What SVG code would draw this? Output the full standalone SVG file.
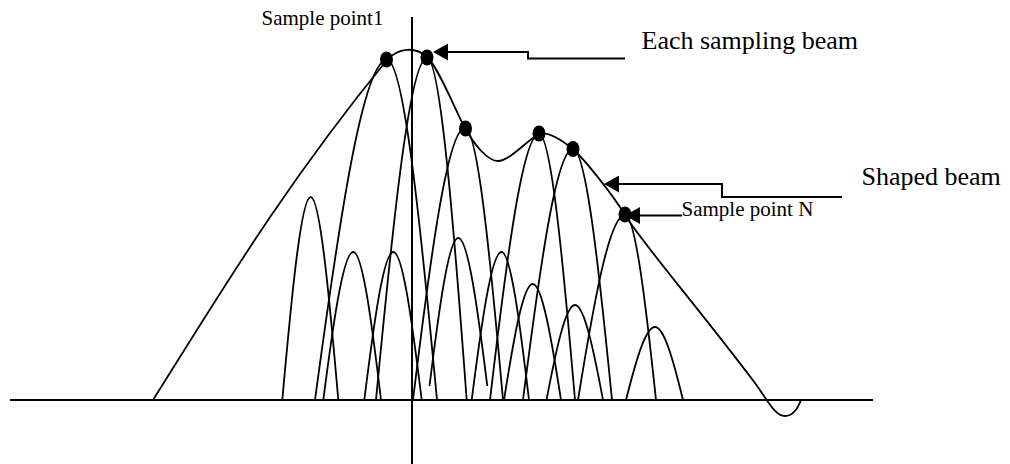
<svg xmlns="http://www.w3.org/2000/svg" width="1010" height="464" viewBox="0 0 1010 464">
<style>
.c{fill:none;stroke:#000;stroke-width:1.8;stroke-linejoin:round}
.ax{fill:none;stroke:#000;stroke-width:2}
.ar{fill:none;stroke:#000;stroke-width:2}
.dot{fill:#000}
text{font-family:"Liberation Serif","Times New Roman",serif;fill:#000}
.big{font-size:26px}
.small{font-size:21px}
</style>
<defs>
<marker id="ah" markerUnits="userSpaceOnUse" markerWidth="15" markerHeight="17" viewBox="0 0 15 17" refX="0" refY="8.5" orient="auto">
<path d="M0,0 L15,8.5 L0,17 z" fill="#000"/>
</marker>
</defs>
<rect width="1010" height="464" fill="#fff"/>
<g id="axes">
<line class="ax" x1="10" y1="400" x2="873" y2="400"/>
<line class="ax" x1="412" y1="17" x2="412" y2="464"/>
</g>
<g id="side-lobes">
<path id="lobe-a" class="c" d="M282.3,400 C291.8,293.7 301.2,197 310.7,197 C319.9,197 329.1,293.7 338.3,400"/>
<path id="lobe-b" class="c" d="M323.3,400 C333.3,322.5 343.3,252 353.3,252 C362.5,252 371.8,322.5 381,400"/>
<path id="lobe-c" class="c" d="M364.3,400 C374,322.5 383.6,252 393.3,252 C402.8,252 412.2,322.5 421.7,400"/>
<path id="lobe-d" class="c" d="M429.5,386 C439.1,308.5 448.7,238 458.3,238 C468,238 477.6,308.5 487.3,386"/>
<path id="lobe-e" class="c" d="M471.7,400 C481.6,322.5 491.6,252 501.5,252 C510.7,252 519.8,322.5 529,400"/>
<path id="lobe-f" class="c" d="M504,400 C513.6,339.3 523.1,284 532.7,284 C542.1,284 551.6,339.3 561,400"/>
<path id="lobe-g" class="c" d="M546.5,400 C556,350.3 565.5,305 575,305 C584.3,305 593.7,350.3 603,400"/>
<path id="lobe-h" class="c" d="M626,400 C635.7,361.8 645.3,327 655,327 C664.3,327 673.7,361.8 683,400"/>
</g>
<g id="sampling-beams">
<path id="beam-1" class="c" d="M315,400 C339,222 363,60 387,60 C403.7,60 420.3,222 437,400"/>
<path id="beam-2" class="c" d="M376,400 C393,221 410,58 427,58 C440.2,58 453.5,221 466.7,400"/>
<path id="beam-3" class="c" d="M413,400 C430.3,257.6 447.7,128 465,128 C477.7,128 490.3,257.6 503,400"/>
<path id="beam-4" class="c" d="M490,400 C506.3,260.7 522.7,134 539,134 C551,134 563,260.7 575,400"/>
<path id="beam-5" class="c" d="M523,400 C539.7,268.6 556.3,149 573,149 C586,149 599,268.6 612,400"/>
<path id="beam-n" class="c" d="M578,400 C593.7,303.1 609.3,215 625,215 C635.3,215 645.7,303.1 656,400"/>
</g>
<g id="shaped-beam">
<path class="c" d="M153,400 C218,297 283,187 387,60 C398,48 415,46 427,57 C439,68 455,110 465,128 C475,146 488,161 498,161 C510,161 530,137.6 539,134 C548,130.4 563,141 573,149 C585,160 613,195 625,215 C640,240 700,310 755,383 C768,401 775,416 785,416 C793,416 798,408 801,400"/>
</g>
<g id="sample-points">
<ellipse id="pt-1" class="dot" cx="386.5" cy="59.5" rx="6.5" ry="8"/>
<ellipse id="pt-2" class="dot" cx="427" cy="57.5" rx="6.5" ry="8"/>
<ellipse id="pt-3" class="dot" cx="465.5" cy="128.5" rx="6.5" ry="8"/>
<ellipse id="pt-4" class="dot" cx="539" cy="133.5" rx="6.5" ry="8"/>
<ellipse id="pt-5" class="dot" cx="573" cy="149" rx="6.5" ry="8"/>
<ellipse id="pt-n" class="dot" cx="625" cy="214.5" rx="6.5" ry="8"/>
</g>
<g id="connectors">
<path class="ar" d="M625,58.5 H528 V52 H448" marker-end="url(#ah)"/>
<path class="ar" d="M842,197 H722 V184 H619" marker-end="url(#ah)"/>
<path class="ar" d="M682,215.5 H640" marker-end="url(#ah)"/>
</g>
<g id="labels">
<text id="label-sample1" class="small" x="261.5" y="25">Sample point1</text>
<text id="label-each" class="big" x="641.5" y="48.5">Each sampling beam</text>
<text id="label-shaped" class="big" x="861.5" y="185">Shaped beam</text>
<text id="label-samplen" class="small" x="681.5" y="215.5">Sample point N</text>
</g>
</svg>
